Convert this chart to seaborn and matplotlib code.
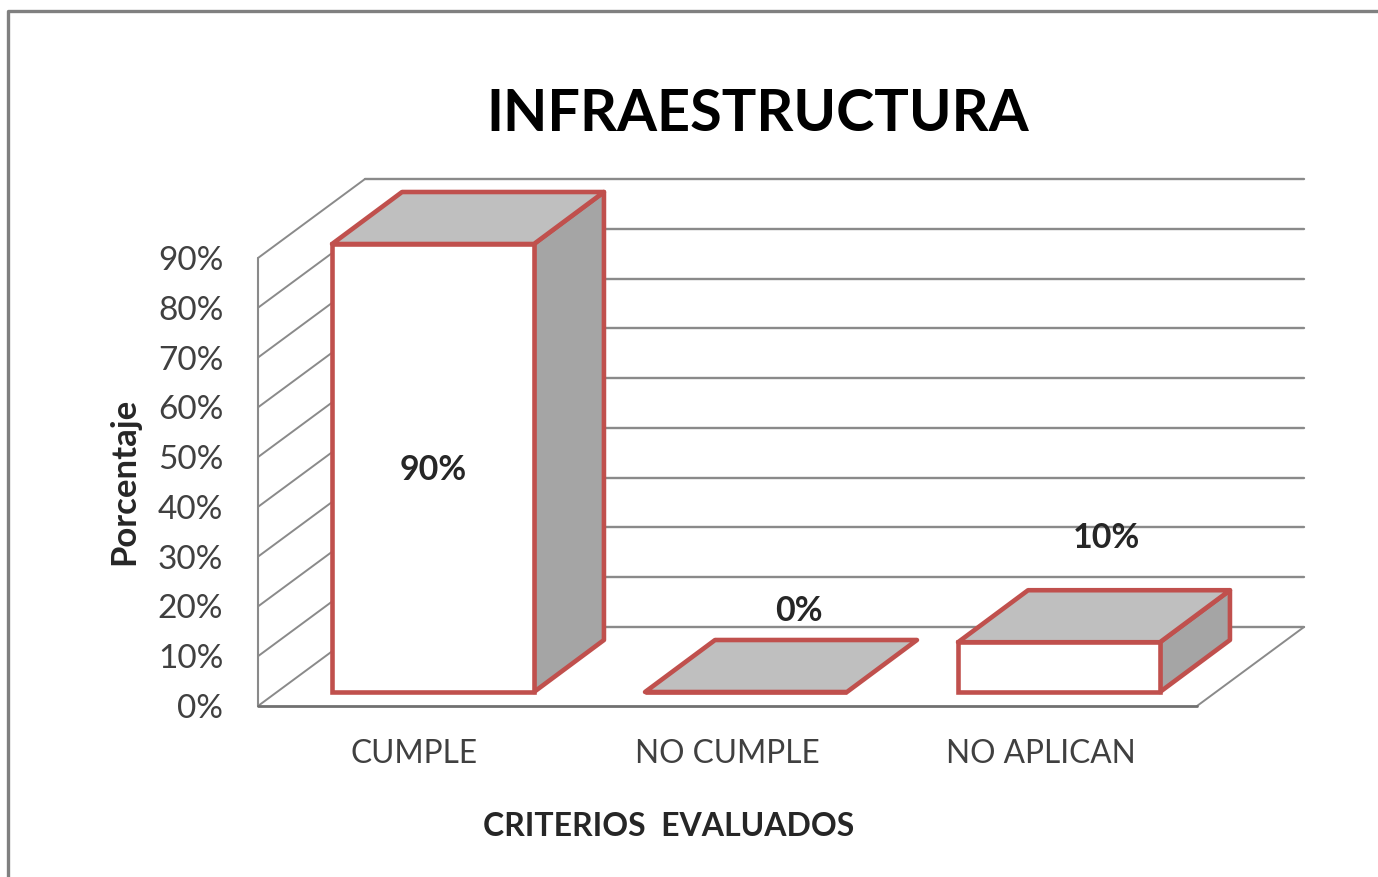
import matplotlib
matplotlib.use("Agg")
import matplotlib.pyplot as plt
import pandas as pd
import seaborn as sns
from matplotlib.lines import Line2D
from matplotlib.patches import Polygon
from matplotlib.transforms import Affine2D

categorias = ["CUMPLE", "NO CUMPLE", "NO APLICAN"]
porcentajes = [90, 0, 10]
marcas_y = [0, 10, 20, 30, 40, 50, 60, 70, 80, 90]

ROJO = "#c0504d"
GRIS = "#8a8a8a"
TEXTO = "#404040"

sns.set_theme(style="white")
plt.rcParams["font.family"] = ["Lato", "DejaVu Sans"]

fig = plt.figure(figsize=(13.78, 8.77), dpi=100)
ax = fig.add_axes([258 / 1378, 1 - 706 / 877, 939 / 1378, 448 / 877])
ax.patch.set_alpha(0)

df = pd.DataFrame({"criterio": categorias, "valor": porcentajes})
sns.barplot(data=df, x="criterio", y="valor", width=0.645, color="white",
            saturation=1, edgecolor=ROJO, linewidth=3.3, zorder=5, ax=ax)
ax.set_xlim(-0.5, 2.5)
ax.set_ylim(0, 90)

# pixeles a unidades de datos
px_x = 3 / 939
px_y = 90 / 448

# paredes y piso falsos en 3D
fondo_x, fondo_y = 107 * px_x, 79 * px_y
for m in marcas_y:
    ax.plot([-0.5, -0.5 + fondo_x], [m, m + fondo_y], color=GRIS, lw=1.4, clip_on=False, zorder=1)
    ax.plot([-0.5 + fondo_x, 2.5 + fondo_x], [m + fondo_y, m + fondo_y], color=GRIS, lw=1.7,
            clip_on=False, zorder=1)
ax.plot([-0.5, -0.5], [0, 90], color=GRIS, lw=1.5, clip_on=False, zorder=1)
ax.plot([2.5, 2.5 + fondo_x], [0, fondo_y], color=GRIS, lw=1.4, clip_on=False, zorder=1)
ax.plot([-0.5, 2.5], [0, 0], color="#707070", lw=2, clip_on=False, zorder=2)

# caras de las barras
mover_x, mover_y = 18.5 * px_x, 14 * px_y
prof_x, prof_y = 70 * px_x, 52 * px_y
for barra in ax.patches:
    barra.set_transform(Affine2D().translate(mover_x, mover_y) + ax.transData)
    barra.set_clip_on(False)
    barra.set_joinstyle("miter")
for barra in list(ax.patches):
    x0 = barra.get_x() + mover_x
    x1 = x0 + barra.get_width()
    y1 = barra.get_height() + mover_y
    y0 = mover_y
    if barra.get_height() > 0:
        ax.add_patch(Polygon([(x1, y0), (x1 + prof_x, y0 + prof_y), (x1 + prof_x, y1 + prof_y), (x1, y1)],
                             facecolor="#a5a5a5", edgecolor=ROJO, lw=3.3, joinstyle="round",
                             clip_on=False, zorder=4))
    ax.add_patch(Polygon([(x0, y1), (x1, y1), (x1 + prof_x, y1 + prof_y), (x0 + prof_x, y1 + prof_y)],
                         facecolor="#bfbfbf", edgecolor=ROJO, lw=3.3, joinstyle="round",
                         clip_on=False, zorder=4))

sns.despine(ax=ax, left=True, bottom=True)

ax.set_yticks(marcas_y)
ax.set_yticklabels([f"{m}%" for m in marcas_y])
ax.tick_params(axis="y", length=0, pad=25, labelsize=24, labelcolor=TEXTO)
ax.tick_params(axis="x", length=0, pad=24, labelsize=22.8, labelcolor=TEXTO)

ax.set_xlabel("CRITERIOS  EVALUADOS", fontsize=23, fontweight="bold", color="#262626", va="center")
ax.xaxis.set_label_coords((669 - 258) / 939, (706 - 826) / 448)
ax.set_ylabel("Porcentaje", fontsize=25, fontweight="bold", color="#262626", va="center")
ax.yaxis.set_label_coords((124 - 258) / 939, (706 - 481) / 448)
ax.set_title("INFRAESTRUCTURA", fontsize=41.5, fontweight="bold", color="black",
             x=(758 - 258) / 939, y=(706 - 123) / 448, va="center")

# etiquetas de datos, desplazadas en puntos
desplazo = [(18.5, 12), (71.5, 95), (65.5, 118)]
for i, v in enumerate(porcentajes):
    base = 45 if v == 90 else v
    ax.annotate(f"{v}%", xy=(i, base), xytext=(desplazo[i][0] * 0.72, desplazo[i][1] * 0.72),
                textcoords="offset points", ha="center", va="center",
                fontsize=24.5, fontweight="bold", color="#262626", zorder=7)

# marco de la imagen
fig.add_artist(Line2D([7.5 / 1378, 7.5 / 1378, 1], [0, 1 - 11 / 877, 1 - 11 / 877],
                      color="#808080", lw=2.4, transform=fig.transFigure))

fig.savefig("out.png", dpi=100)
